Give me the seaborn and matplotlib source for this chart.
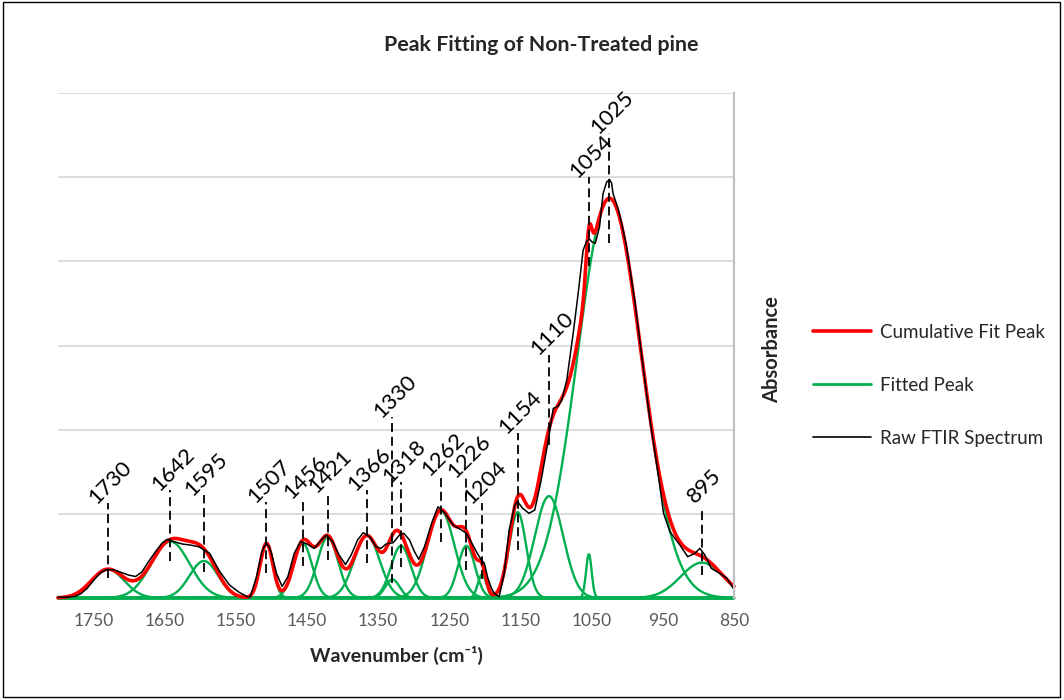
import numpy as np
import pandas as pd
import matplotlib
matplotlib.use("Agg")
import matplotlib.pyplot as plt
from matplotlib.lines import Line2D
from matplotlib.patches import Rectangle
import seaborn as sns

# ---- fitted bands: position (cm-1), height and Gaussian width ----
band_positions = [1730, 1642, 1595, 1507, 1456, 1421, 1366, 1330, 1318,
                  1262, 1226, 1204, 1154, 1110, 1054, 1025, 895]
band_heights = [0.034, 0.067, 0.044, 0.065, 0.065, 0.072, 0.074, 0.022, 0.062,
                0.104, 0.062, 0.028, 0.102, 0.121, 0.052, 0.475, 0.042]
band_widths = [23, 27, 20, 9, 13, 14.5, 18, 10, 14,
               19, 12, 6, 12, 20, 4, 45, 30]

# ---- leader lines for the band labels (absorbance range) ----
leader_top = [0.113, 0.128, 0.122, 0.114, 0.119, 0.125, 0.128, 0.215, 0.138,
              0.146, 0.143, 0.113, 0.196, 0.289, 0.500, 0.552, 0.108]
leader_bottom = [0.024, 0.044, 0.031, 0.030, 0.038, 0.045, 0.042, 0.018, 0.037,
                 0.067, 0.033, 0.023, 0.057, 0.182, 0.394, 0.422, 0.027]

# ---- measured spectrum ----
raw_wavenumber = [1800, 1786, 1776, 1768, 1759, 1749, 1740, 1731, 1721, 1710,
                  1701, 1691, 1682, 1673, 1663, 1654, 1647, 1637, 1625, 1614,
                  1602, 1593, 1587, 1573, 1559, 1545, 1534, 1530, 1521, 1514,
                  1511, 1507, 1503, 1500, 1493, 1485, 1477, 1468, 1459, 1450,
                  1440, 1430, 1423, 1414, 1405, 1396, 1388, 1379, 1371, 1362,
                  1353, 1346, 1339, 1329, 1320, 1314, 1306, 1299, 1293, 1285,
                  1275, 1266, 1256, 1245, 1233, 1226, 1217, 1211, 1205, 1201,
                  1196, 1191, 1187, 1180, 1173, 1166, 1158, 1154, 1147, 1138,
                  1130, 1121, 1111, 1104, 1097, 1092, 1085, 1076, 1069, 1062,
                  1057, 1053, 1050, 1045, 1039, 1034, 1029, 1025, 1022, 1020,
                  1013, 1007, 1001, 989, 979, 968, 958, 949, 940, 926,
                  915, 905, 898, 891, 882, 870, 860, 851]
raw_absorbance = [0.001, 0.001, 0.002, 0.005, 0.0115, 0.022, 0.030, 0.034, 0.0333, 0.030,
                  0.0273, 0.0255, 0.031, 0.043, 0.055, 0.065, 0.0695, 0.0669, 0.0641, 0.0629,
                  0.0609, 0.0562, 0.0531, 0.0318, 0.0154, 0.0065, 0.0015, 0.001, 0.0253, 0.0531,
                  0.060, 0.065, 0.060, 0.0531, 0.0293, 0.0137, 0.0253, 0.0531, 0.0673, 0.0641,
                  0.059, 0.0689, 0.0748, 0.0669, 0.0511, 0.0398, 0.0511, 0.0689, 0.0776, 0.0728,
                  0.0609, 0.059, 0.0641, 0.0657, 0.0748, 0.0768, 0.0689, 0.055, 0.046, 0.0609,
                  0.0887, 0.1084, 0.1006, 0.0867, 0.0808, 0.0768, 0.0629, 0.0534, 0.0451, 0.0416,
                  0.0238, 0.0119, 0.0056, 0.0015, 0.0293, 0.0808, 0.1105, 0.1144, 0.1065, 0.1006,
                  0.1045, 0.1401, 0.1876, 0.2253, 0.228, 0.2352, 0.2589, 0.3144, 0.3619, 0.4133,
                  0.424, 0.4264, 0.4234, 0.4213, 0.441, 0.4806, 0.4941, 0.4973, 0.4929, 0.4806,
                  0.4628, 0.4418, 0.4172, 0.350, 0.283, 0.211, 0.156, 0.1006, 0.0787, 0.0629,
                  0.049, 0.0531, 0.059, 0.0511, 0.0353, 0.0293, 0.0234, 0.0115]

x_ticks = [1750, 1650, 1550, 1450, 1350, 1250, 1150, 1050, 950, 850]
legend_labels = ["Cumulative Fit Peak", "Fitted Peak", "Raw FTIR Spectrum"]

RED = "#FF0000"
GREEN = "#00B050"

sns.set_theme(style="white")
plt.rcParams["font.family"] = ["Lato", "DejaVu Sans"]

fig = plt.figure(figsize=(10.64, 7.00), dpi=100)
ax = fig.add_axes([58 / 1064, 1 - 598 / 700, (734 - 58) / 1064, (598 - 93) / 700])

# evaluate each fitted band on a fine grid
grid = np.linspace(1800, 850, 1901)
frames = []
for i, (c, h, w) in enumerate(zip(band_positions, band_heights, band_widths)):
    frames.append(pd.DataFrame({"band": i, "wavenumber": grid,
                                "absorbance": h * np.exp(-0.5 * ((grid - c) / w) ** 2)}))
bands = pd.concat(frames, ignore_index=True)
cumulative = bands.groupby("wavenumber", as_index=False)["absorbance"].sum()
raw = pd.DataFrame({"wavenumber": raw_wavenumber, "absorbance": raw_absorbance})

sns.lineplot(data=bands, x="wavenumber", y="absorbance", units="band", estimator=None,
             color=GREEN, lw=1.7, sort=False, legend=False, ax=ax)
sns.lineplot(data=cumulative, x="wavenumber", y="absorbance", color=RED, lw=2.6,
             sort=False, legend=False, ax=ax)
sns.lineplot(data=raw, x="wavenumber", y="absorbance", color="black", lw=1.1,
             sort=False, legend=False, ax=ax)
for ln in ax.lines:
    ln.set_clip_on(False)

# band labels with dashed leader lines
for c, top, bot in zip(band_positions, leader_top, leader_bottom):
    ax.plot([c, c], [bot, top], color="black", lw=1.3, ls=(0, (5, 2.6)), zorder=5)
    ax.annotate(str(c), xy=(c, top), xytext=(2, 15), textcoords="offset points",
                rotation=45, ha="center", va="center", fontsize=16, color="black")

ax.set_xlim(1800, 850)
ax.set_ylim(0, 0.6)
ax.set_xticks(x_ticks)
ax.set_yticks(np.arange(0, 0.61, 0.1))
ax.set_yticklabels([])
ax.yaxis.grid(True, color="#d9d9d9", lw=1.3)
ax.set_axisbelow(True)
ax.tick_params(axis="x", length=0, pad=11, labelsize=12.5, labelcolor="#595959")
ax.tick_params(axis="y", length=0)
for side in ["left", "top", "bottom"]:
    ax.spines[side].set_visible(False)
ax.spines["right"].set_color("#bfbfbf")
ax.spines["right"].set_linewidth(1.5)
ax.set_xlabel("")
ax.set_ylabel("")

fig.text(541 / 1064, 1 - 45 / 700, "Peak Fitting of Non-Treated pine", ha="center",
         va="center", fontsize=15.4, fontweight="bold")
fig.text(396 / 1064, 1 - 655 / 700, "Wavenumber (cm\u207b\u00b9)", ha="center",
         va="center", fontsize=14, fontweight="bold")
fig.text(772 / 1064, 1 - 350 / 700, "Absorbance", ha="center", va="center",
         rotation=90, fontsize=14.5, fontweight="bold")

handles = [Line2D([], [], color=RED, lw=2.6),
           Line2D([], [], color=GREEN, lw=2.0),
           Line2D([], [], color="black", lw=1.2)]
fig.legend(handles, legend_labels, loc="center left",
           bbox_to_anchor=(813 / 1064, 1 - 385 / 700), frameon=False, fontsize=13.5,
           handlelength=3.1, handletextpad=0.45, labelspacing=1.92,
           borderpad=0, borderaxespad=0)

fig.add_artist(Rectangle((3 / 1064, 3 / 700), 1057 / 1064, 695 / 700,
                         transform=fig.transFigure, fill=False, ec="black", lw=1.0))

fig.savefig("out.png", dpi=100)
